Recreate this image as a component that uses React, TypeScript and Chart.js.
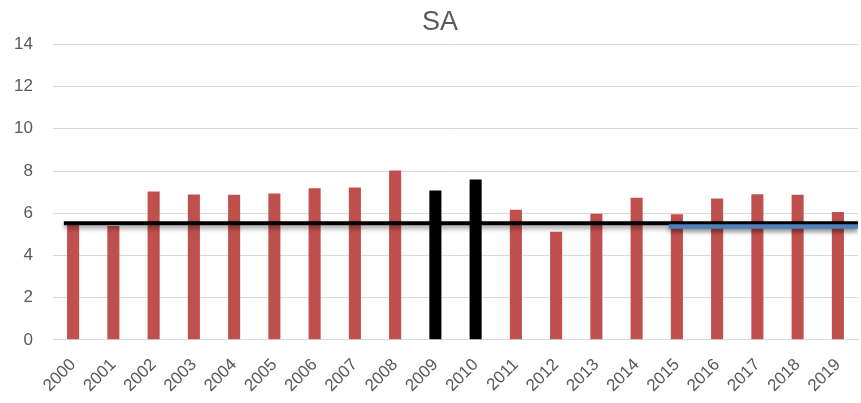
import React, { useEffect, useRef } from "react";
import { Chart, registerables } from "chart.js";

Chart.register(...registerables);

const years = ["2000","2001","2002","2003","2004","2005","2006","2007","2008","2009","2010","2011","2012","2013","2014","2015","2016","2017","2018","2019"];
const values = [5.46, 5.39, 7.03, 6.89, 6.88, 6.94, 7.18, 7.22, 8.03, 7.08, 7.6, 6.16, 5.12, 5.97, 6.73, 5.95, 6.7, 6.9, 6.87, 6.06];
const highlightYears = ["2009", "2010"];
const yTicks = [0, 2, 4, 6, 8, 10, 12, 14];
// horizontal reference lines: value and extent in category index units
const blackLineValue = 5.52;
const blackLineRange = [-0.23, 19.5];
const blueLineValue = 5.37;
const blueLineRange = [14.8, 19.5];

const RED = "#C0504D";
const BLACK = "#000000";
const BLUE = "#4F81BD";
const TEXT = "#595959";
const FONT = "'Liberation Sans Narrow', 'Liberation Sans', sans-serif";

const shadowPlugin = {
  id: "lineShadow",
  afterLayout(chart: any) {
    // let the y tick labels use the space left of the axis box without clipping
    if (chart.scales.y) chart.scales.y.left = 0;
  },
  beforeDatasetDraw(chart: any, args: any) {
    const ds = chart.data.datasets[args.index];
    if (ds.type === "line") {
      const ctx = chart.ctx;
      ctx.save();
      ctx.shadowColor = "rgba(0,0,0,0.45)";
      ctx.shadowBlur = 5;
      ctx.shadowOffsetY = 3;
    }
  },
  afterDatasetDraw(chart: any, args: any) {
    const ds = chart.data.datasets[args.index];
    if (ds.type === "line") chart.ctx.restore();
  },
};

export default function App() {
  const ref = useRef<HTMLCanvasElement | null>(null);
  useEffect(() => {
    document.body.style.margin = "0";
    if (!ref.current) return;
    const chart = new Chart(ref.current, {
      type: "bar",
      data: {
        labels: years,
        datasets: [
          {
            type: "bar",
            data: values,
            backgroundColor: years.map((y) => (highlightYears.includes(y) ? BLACK : RED)),
            categoryPercentage: 1,
            barPercentage: 0.3,
            grouped: false,
            order: 3,
          } as any,
          {
            type: "line",
            xAxisID: "xl",
            data: [
              { x: blackLineRange[0], y: blackLineValue },
              { x: blackLineRange[1], y: blackLineValue },
            ],
            borderColor: BLACK,
            borderWidth: 4,
            pointRadius: 0,
            order: 2,
          } as any,
          {
            type: "line",
            xAxisID: "xl",
            data: [
              { x: blueLineRange[0], y: blueLineValue },
              { x: blueLineRange[1], y: blueLineValue },
            ],
            borderColor: BLUE,
            borderWidth: 4.5,
            pointRadius: 0,
            order: 1,
          } as any,
        ],
      },
      options: {
        animation: false,
        responsive: false,
        layout: { padding: { left: 22, right: 3, top: 4, bottom: 0 } },
        plugins: {
          legend: { display: false },
          tooltip: { enabled: false },
          title: {
            display: true,
            text: "SA",
            color: TEXT,
            font: { family: FONT, size: 27, weight: "normal" },
            padding: { top: 2, bottom: 6 },
          },
        },
        scales: {
          x: {
            offset: true,
            grid: { display: false },
            border: { color: "#D9D9D9" },
            ticks: {
              color: TEXT,
              font: { family: FONT, size: 17 },
              maxRotation: 45,
              minRotation: 45,
              autoSkip: false,
              padding: 7,
            },
          },
          xl: {
            type: "linear",
            display: false,
            offset: false,
            min: -0.5,
            max: 19.5,
          },
          y: {
            min: 0,
            max: 14,
            afterBuildTicks: (scale: any) => {
              scale.ticks = yTicks.map((v) => ({ value: v }));
            },
            afterFit: (scale: any) => {
              scale.width = 31;
            },
            grid: { color: "#D9D9D9", lineWidth: 1, drawTicks: false },
            border: { display: false },
            ticks: {
              color: TEXT,
              font: { family: FONT, size: 17 },
              padding: 20,
            },
          },
        },
      },
      plugins: [shadowPlugin],
    });
    return () => chart.destroy();
  }, []);
  return (
    <div style={{ width: 861, height: 403 }}>
      <canvas ref={ref} width={861} height={403} />
    </div>
  );
}
